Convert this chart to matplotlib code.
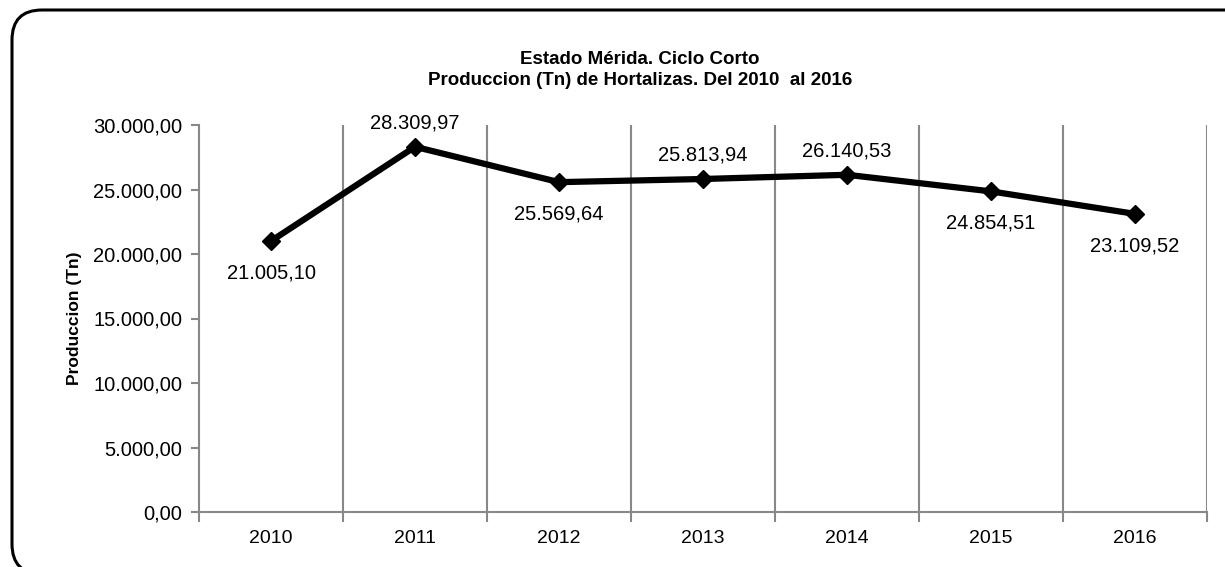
import numpy as np
import matplotlib.pyplot as plt
from matplotlib.patches import PathPatch
from matplotlib.path import Path

years = ['2010', '2011', '2012', '2013', '2014', '2015', '2016']
produccion = [21005.10, 28309.97, 25569.64, 25813.94, 26140.53, 24854.51, 23109.52]
label_pos = ['below', 'above', 'below', 'above', 'above', 'below', 'below']
yticks = [0, 5000, 10000, 15000, 20000, 25000, 30000]

plt.rcParams['font.family'] = ['Liberation Sans', 'DejaVu Sans']

W, H = 1225, 567


def fmt_es(v):
    s = f"{v:,.2f}"
    return s.replace(',', 'X').replace('.', ',').replace('X', '.')


fig = plt.figure(figsize=(W / 100, H / 100), dpi=100)
ax = fig.add_axes([199 / W, 1 - 512 / H, 1008 / W, 387 / H])

# rounded chart frame, running off the right and bottom edges (pixel coords)
L, T, B, R, r = 12, 10, 574, 1240, 30
verts = [(R, H - T), (L + r, H - T), (L, H - T), (L, H - T - r),
         (L, H - B + r), (L, H - B), (L + r, H - B)]
codes = [Path.MOVETO, Path.LINETO, Path.CURVE3, Path.CURVE3,
         Path.LINETO, Path.CURVE3, Path.CURVE3]
frame = PathPatch(Path(verts, codes), transform=None, fill=False,
                  edgecolor='black', linewidth=2.2)
fig.patches.append(frame)

x = np.arange(len(years))
ax.plot(x, produccion, color='black', linewidth=4.5, marker='D',
        markersize=9, zorder=3)

for xi, v, pos in zip(x, produccion, label_pos):
    off = 17 if pos == 'above' else -23
    ax.annotate(fmt_es(v), (xi, v), xytext=(0, off), textcoords='offset points',
                ha='center', va='center', fontsize=14.5)

ax.set_xlim(-0.5, len(years) - 0.5)
ax.set_ylim(0, 30000)
ax.set_yticks(yticks)
ax.set_yticklabels([fmt_es(t) for t in yticks], fontsize=14.5)
ax.set_xticks(x)
ax.set_xticklabels(years, fontsize=14)
ax.tick_params(axis='x', length=0, pad=13)
ax.tick_params(axis='y', length=6, color='#888888', width=1.5, pad=6)

# category boundary gridlines and ticks
bounds = np.arange(-0.5, len(years), 1.0)
ax.set_xticks(bounds, minor=True)
ax.tick_params(axis='x', which='minor', length=7, color='#888888', width=1.5)
for b in bounds[1:]:
    ax.axvline(b, color='#888888', linewidth=1.5, zorder=1)

for s in ['top', 'right']:
    ax.spines[s].set_visible(False)
for s in ['left', 'bottom']:
    ax.spines[s].set_color('#888888')
    ax.spines[s].set_linewidth(1.5)

ax.set_ylabel('Produccion (Tn)', fontsize=12.5, fontweight='bold', labelpad=8)

fig.text(640 / W, 1 - 60 / H, 'Estado Mérida. Ciclo Corto', ha='center',
         va='center', fontsize=13.5, fontweight='bold')
fig.text(640 / W, 1 - 81 / H, 'Produccion (Tn) de Hortalizas. Del 2010  al 2016',
         ha='center', va='center', fontsize=13.5, fontweight='bold')

fig.savefig('out.png', dpi=100)
